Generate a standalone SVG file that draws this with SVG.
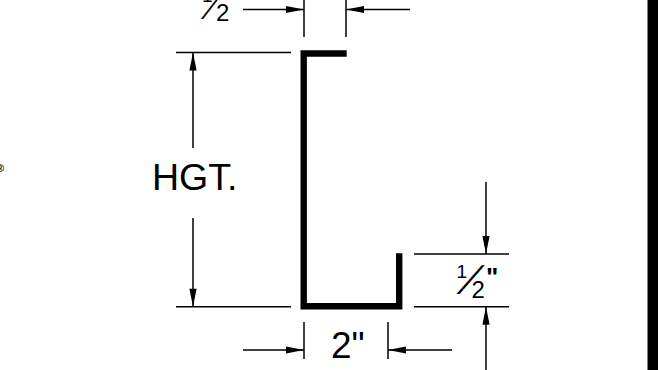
<svg xmlns="http://www.w3.org/2000/svg" width="658" height="370" viewBox="0 0 658 370">
<style>
text{font-family:"Liberation Sans",Arial,sans-serif;fill:#000}
.d{stroke:#000;stroke-width:1.5;fill:none}
.p{fill:#000;stroke:none}
</style>
<defs>
<path id="ah" class="p" d="M0 0L-18 -3.6V3.6Z"/>
</defs>
<rect width="658" height="370" fill="#fff"/>
<rect id="edge-bar" x="647.5" y="0" width="10.5" height="370" fill="#000"/>
<text id="mark" x="-4" y="172" font-size="11" font-weight="bold">®</text>
<path id="channel" d="M346.7 53.5H303.7V306.3H399.2V253.3" fill="none" stroke="#000" stroke-width="6.4"/>
<g id="connectors">
<path class="d" d="M176 52.6H291M176 306.7H291M193 53V148M193 218V306.7"/>
<path class="d" d="M304 0V37M346 0V37M243 9.5H304M346 9.5H410"/>
<path class="d" d="M304 322V359M388 322V359M243 350H304M388 350H452"/>
<path class="d" d="M414 254H509M414 306.7H509M486 182V254M486 306.7V370"/>
<use href="#ah" transform="translate(193 52.6) rotate(-90)"/>
<use href="#ah" transform="translate(193 306.7) rotate(90)"/>
<use href="#ah" transform="translate(304 9.5)"/>
<use href="#ah" transform="translate(346 9.5) rotate(180)"/>
<use href="#ah" transform="translate(304 350)"/>
<use href="#ah" transform="translate(388 350) rotate(180)"/>
<use href="#ah" transform="translate(486 254) rotate(90)"/>
<use href="#ah" transform="translate(486 306.7) rotate(-90)"/>
</g>
<g id="label-hgt"><text x="152" y="190" font-size="37.5">HGT.</text></g>
<g id="label-2in"><text x="331" y="358" font-size="37">2"</text></g>
<g id="label-half-top">
<text x="202" y="2" font-size="19">1</text>
<text font-size="30" transform="translate(207 19) skewX(-8)">⁄</text>
<text x="216" y="20.5" font-size="24">2</text>
</g>
<g id="label-half">
<text x="456.5" y="278" font-size="19">1</text>
<text font-size="42" transform="translate(465 294) skewX(-14)">⁄</text>
<text x="471.5" y="298" font-size="24">2</text>
<text x="486" y="286" font-size="26" font-weight="bold">"</text>
</g>
</svg>
